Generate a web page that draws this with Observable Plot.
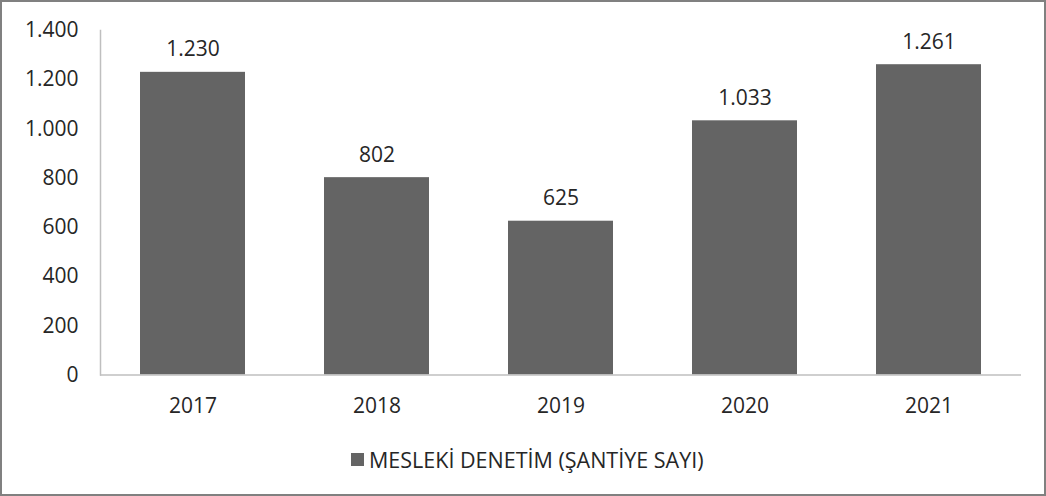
<!DOCTYPE html>
<html>
<head>
<meta charset="utf-8">
<script src="https://cdn.jsdelivr.net/npm/d3@7"></script>
<script src="https://cdn.jsdelivr.net/npm/@observablehq/plot@0.6"></script>
<style>
  html, body { margin: 0; padding: 0; background: #fff; }
  #frame {
    position: relative; box-sizing: border-box;
    width: 1046px; height: 496px;
    border: 2px solid #808080; background: #fff; overflow: hidden;
  }
  #chart svg { display: block; }
  #legend {
    position: absolute; left: 349px; top: 443px;
    display: flex; align-items: center;
    font-family: "Open Sans", sans-serif; font-size: 21.5px; color: #262626;
  }
  #legend .sw { width: 13px; height: 13px; background: #646464; margin-right: 5px; }
</style>
</head>
<body>
<div id="frame">
  <div id="chart"></div>
  <div id="legend"><span class="sw"></span><span id="legtext"></span></div>
</div>
<script>
const years = ["2017", "2018", "2019", "2020", "2021"];
const values = [1230, 802, 625, 1033, 1261];
const yTicks = [0, 200, 400, 600, 800, 1000, 1200, 1400];
const seriesName = "MESLEKİ DENETİM (ŞANTİYE SAYI)";

const data = years.map((y, i) => ({year: y, value: values[i]}));
const fmt = d3.formatLocale({decimal: ",", thousands: ".", grouping: [3], currency: ["", ""]}).format(",");

const plot = Plot.plot({
  width: 1042,
  height: 420,
  marginTop: 28,
  marginBottom: 47.5,
  marginLeft: 98,
  marginRight: 23,
  style: {fontFamily: "Open Sans, sans-serif", fontSize: "21px", color: "#262626", background: "#fff"},
  x: {domain: years, paddingInner: 0.43, paddingOuter: 0.215, label: null},
  y: {domain: [0, 1400], label: null},
  marks: [
    Plot.barY(data, {x: "year", y: "value", fill: "#646464"}),
    Plot.frame({anchor: "left", stroke: "#bfbfbf", strokeWidth: 1.5}),
    Plot.ruleY([0], {stroke: "#bfbfbf", strokeWidth: 1.5}),
    Plot.axisY({ticks: yTicks, tickFormat: fmt, tickSize: 0, tickPadding: 22, fontSize: 21, fill: "#262626"}),
    Plot.axisX({tickSize: 0, tickPadding: 23, fontSize: 21, fill: "#262626"}),
    Plot.text(data, {x: "year", y: "value", text: d => fmt(d.value), lineAnchor: "bottom", dy: -16, fontSize: 21, fill: "#262626"})
  ]
});
document.getElementById("chart").appendChild(plot);
document.getElementById("legtext").textContent = seriesName;
</script>
</body>
</html>
